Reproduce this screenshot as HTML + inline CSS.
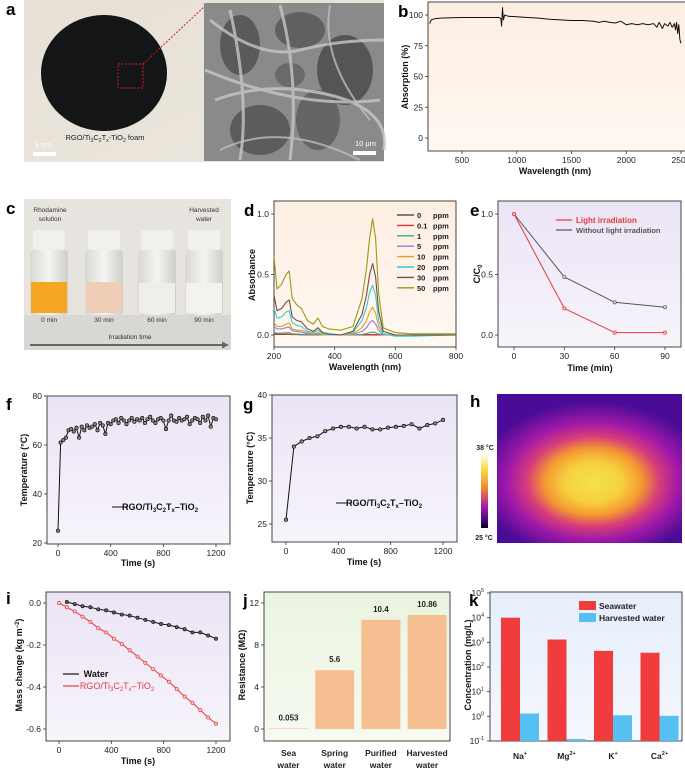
<!DOCTYPE html>
<html><head><meta charset="utf-8"><style>
html,body{margin:0;padding:0;background:#fff;}
svg{display:block;font-family:"Liberation Sans",Arial,sans-serif;}
.tk{font-size:8.5px;fill:#222;}
.tt{font-size:9px;font-weight:bold;fill:#111;}
.pl{font-size:17px;font-weight:bold;fill:#000;}
</style></head><body>
<svg id="fig" width="685" height="770" viewBox="0 0 685 770" xmlns="http://www.w3.org/2000/svg">
<defs>
<linearGradient id="gPeach" x1="0" y1="0" x2="0" y2="1"><stop offset="0" stop-color="#fdeee2"/><stop offset="1" stop-color="#fff8f2"/></linearGradient>
<linearGradient id="gLav" x1="0" y1="0" x2="0" y2="1"><stop offset="0" stop-color="#ebe4f6"/><stop offset="1" stop-color="#f7f4fb"/></linearGradient>
<linearGradient id="gGreen" x1="0" y1="0" x2="0" y2="1"><stop offset="0" stop-color="#eaf4e0"/><stop offset="1" stop-color="#f6faf1"/></linearGradient>
<linearGradient id="gBlue" x1="0" y1="0" x2="0" y2="1"><stop offset="0" stop-color="#e6eefb"/><stop offset="1" stop-color="#f4f7fd"/></linearGradient>
<radialGradient id="gTherm" cx="0.52" cy="0.58" r="0.62" fx="0.52" fy="0.6" gradientTransform="translate(0.52 0.58) scale(1 0.85) translate(-0.52 -0.58)">
<stop offset="0" stop-color="#f4e24a"/><stop offset="0.25" stop-color="#f6d040"/><stop offset="0.42" stop-color="#f59a30"/><stop offset="0.58" stop-color="#d63c7a"/><stop offset="0.75" stop-color="#a018a8"/><stop offset="1" stop-color="#4a0c96"/></radialGradient>
<linearGradient id="gCbar" x1="0" y1="0" x2="0" y2="1"><stop offset="0" stop-color="#fffbe6"/><stop offset="0.2" stop-color="#f4dc40"/><stop offset="0.45" stop-color="#f08a30"/><stop offset="0.7" stop-color="#b01ca0"/><stop offset="0.9" stop-color="#3a0a80"/><stop offset="1" stop-color="#050010"/></linearGradient>
<linearGradient id="gPhotoA" x1="0" y1="0" x2="1" y2="1"><stop offset="0" stop-color="#e6e0d6"/><stop offset="1" stop-color="#ece7de"/></linearGradient>
<linearGradient id="gVial" x1="0" y1="0" x2="1" y2="0"><stop offset="0" stop-color="#d8d8d4"/><stop offset="0.5" stop-color="#f4f4f0"/><stop offset="1" stop-color="#cfcfca"/></linearGradient>
</defs>

<!-- Panel a -->
<text class="pl" x="6" y="15">a</text>
<rect x="24" y="0" width="360" height="162" fill="url(#gPhotoA)"/>
<ellipse cx="104" cy="73" rx="63" ry="58" fill="#141517"/>
<rect x="118" y="64" width="25" height="24" fill="none" stroke="#d02020" stroke-width="1" stroke-dasharray="2,1.5"/>
<line x1="143" y1="64" x2="205" y2="6" stroke="#d02020" stroke-width="1" stroke-dasharray="2,1.5"/>
<g>
<rect x="204" y="3" width="180" height="158" fill="#8a8a8a"/>
<ellipse cx="240" cy="45" rx="20" ry="30" fill="#5a5a5a"/>
<ellipse cx="300" cy="30" rx="25" ry="18" fill="#606060"/>
<ellipse cx="345" cy="70" rx="28" ry="35" fill="#555"/>
<ellipse cx="260" cy="130" rx="30" ry="25" fill="#5c5c5c"/>
<ellipse cx="318" cy="120" rx="22" ry="30" fill="#656565"/>
<ellipse cx="290" cy="75" rx="15" ry="12" fill="#6a6a6a"/>
<path d="M210 20 Q260 60 300 50 T384 40 M215 100 Q270 80 330 95 T384 150 M230 10 Q250 100 240 160 M280 5 Q300 80 290 160 M205 70 Q300 110 380 100" stroke="#c6c6c6" stroke-width="3" fill="none" opacity="0.8"/>
<path d="M220 150 Q280 120 360 160 M330 5 Q320 60 370 120" stroke="#bdbdbd" stroke-width="2" fill="none" opacity="0.8"/>
</g>
<text x="105" y="140" font-size="7.5" text-anchor="middle" fill="#222">RGO/Ti<tspan font-size="5" dy="2">3</tspan><tspan dy="-2">C</tspan><tspan font-size="5" dy="2">2</tspan><tspan dy="-2">T</tspan><tspan font-size="5" dy="2">x</tspan><tspan dy="-2">-TiO</tspan><tspan font-size="5" dy="2">2</tspan><tspan dy="-2"> foam</tspan></text>
<text x="35" y="147" font-size="7.5" fill="#fff">1 cm</text>
<rect x="33" y="152" width="23" height="4" fill="#fff"/>
<text x="355" y="146" font-size="7.5" fill="#fff">10 µm</text>
<rect x="353" y="151" width="23" height="4" fill="#fff"/>

<!-- Panel c photo -->
<text class="pl" x="6" y="214">c</text>
<g>
<rect x="24" y="199" width="207" height="151" fill="#e7e4df"/>
<rect x="24" y="315" width="207" height="35" fill="#d9d7d3"/>
<g>
<rect x="33" y="230" width="32" height="20" rx="3" fill="#f1f1ec"/><rect x="30" y="250" width="38" height="65" rx="3" fill="url(#gVial)"/><rect x="31" y="282" width="36" height="31" fill="#f5a623"/>
<rect x="88" y="230" width="32" height="20" rx="3" fill="#f1f1ec"/><rect x="85" y="250" width="38" height="65" rx="3" fill="url(#gVial)"/><rect x="86" y="282" width="36" height="31" fill="#efcdb6"/>
<rect x="141" y="230" width="32" height="20" rx="3" fill="#f1f1ec"/><rect x="138" y="250" width="38" height="65" rx="3" fill="url(#gVial)"/><rect x="139" y="283" width="36" height="30" fill="#eeeeea"/>
<rect x="188" y="230" width="32" height="20" rx="3" fill="#f1f1ec"/><rect x="185" y="250" width="38" height="65" rx="3" fill="url(#gVial)"/><rect x="186" y="283" width="36" height="30" fill="#f2f2ee"/>
</g>
<text x="50" y="212" font-size="6.5" text-anchor="middle" fill="#333">Rhodamine</text>
<text x="50" y="221" font-size="6.5" text-anchor="middle" fill="#333">solution</text>
<text x="204" y="212" font-size="6.5" text-anchor="middle" fill="#333">Harvested</text>
<text x="204" y="221" font-size="6.5" text-anchor="middle" fill="#333">water</text>
<text x="49" y="322" font-size="6.5" text-anchor="middle" fill="#333">0 min</text>
<text x="104" y="322" font-size="6.5" text-anchor="middle" fill="#333">30 min</text>
<text x="157" y="322" font-size="6.5" text-anchor="middle" fill="#333">60 min</text>
<text x="204" y="322" font-size="6.5" text-anchor="middle" fill="#333">90 min</text>
<text x="130" y="339" font-size="6.5" text-anchor="middle" fill="#333">Irradiation time</text>
<line x1="30" y1="345" x2="222" y2="345" stroke="#666" stroke-width="2"/>
<polygon points="222,341.5 229,345 222,348.5" fill="#666"/>
</g>

<!-- Panel h thermal -->
<text class="pl" x="470" y="407">h</text>
<rect x="497" y="394" width="185" height="149" fill="url(#gTherm)"/>
<rect x="481" y="455" width="7" height="73" fill="url(#gCbar)"/>
<text x="485" y="450" font-size="7" font-weight="bold" text-anchor="middle" fill="#222">38 °C</text>
<text x="484" y="540" font-size="7" font-weight="bold" text-anchor="middle" fill="#222">25 °C</text>

<g id="charts"></g>
</svg>
<script>
// ---------- data ----------
const bWave = [205,220,250,300,400,500,600,700,800,840,855,862,870,878,890,920,1000,1100,1200,1300,1400,1500,1600,1700,1750,1800,1850,1900,1950,2000,2050,2100,2150,2200,2250,2280,2300,2330,2350,2380,2400,2420,2440,2450,2460,2470,2480,2490,2500];
const bAbs = [93,96,97,97.5,97.8,98,98,98,98,98,97,91,106,96,100,99,98.5,98,97.5,96.5,96,95.5,95.5,95,94,95,94,93.5,95,92,93,92,93,92,93,90,94,89,93,91,94,90,93,88,94,85,92,80,77];
const bXTicks = [500,1000,1500,2000,2500];
const bYTicks = [0,25,50,75,100];

const dWave = [200,210,225,240,250,260,275,290,310,330,345,360,380,420,460,490,505,515,525,535,545,560,600,650,800];
const dNames = ['0','0.1','1','5','10','20','30','50'];
const dColors = ['#555555','#e43030','#33b07a','#a274e0','#e0a018','#2ed0d0','#7a4848','#9a9a10'];
const d0 = [0.005,0.004,0.004,0.004,0.004,0.003,0.003,0.002,0.002,0.002,0.002,0.002,0.001,0.001,0.001,0.001,0.001,0.001,0.001,0.001,0.001,0.001,0,0,0];
const d01 = [0.01,0.008,0.007,0.007,0.007,0.005,0.004,0.003,0.002,0.002,0.002,0.001,0.001,0.001,0.001,0.002,0.003,0.004,0.005,0.004,0.002,0.001,0,0,0];
const d1 = [0.02,0.015,0.015,0.018,0.02,0.01,0.008,0.006,0.003,0.002,0.003,0,0,0,0,0.005,0.012,0.02,0.025,0.02,0.008,0,0,0,0];
const d5 = [0.07,0.05,0.05,0.06,0.065,0.035,0.03,0.025,0.01,0.005,0.01,0,0,0,0.005,0.03,0.06,0.10,0.12,0.09,0.04,0,0,0,0];
const d10 = [0.10,0.07,0.07,0.09,0.10,0.05,0.04,0.04,0.02,0.01,0.02,0,0,0,0.01,0.06,0.12,0.19,0.23,0.18,0.07,0.01,0,0,0];
const d20 = [0.22,0.14,0.15,0.19,0.20,0.10,0.08,0.07,0.03,0.02,0.04,0.01,0,0,0.02,0.12,0.23,0.35,0.41,0.33,0.12,0.01,-0.01,-0.01,0];
const d30 = [0.33,0.20,0.22,0.27,0.29,0.15,0.12,0.11,0.05,0.03,0.06,0.02,0.01,0,0.03,0.17,0.33,0.50,0.59,0.48,0.20,0.03,0,0,0];
const d50 = [0.65,0.38,0.42,0.50,0.53,0.30,0.25,0.22,0.12,0.09,0.14,0.07,0.05,0.04,0.07,0.30,0.55,0.80,0.96,0.80,0.35,0.06,0.02,0.01,0.01];
const dXTicks = [200,400,600,800];
const dYTicks = [0,0.5,1.0];

const eTime = [0,30,60,90];
const eLight = [1.0,0.22,0.02,0.02];
const eDark = [1.0,0.48,0.27,0.23];
const eXTicks = [0,30,60,90];
const eYTicks = [0,0.5,1.0];

const fTime = [0,20,40,60,80,100,120,140,160,180,200,220,240,260,280,300,320,340,360,380,400,420,440,460,480,500,520,540,560,580,600,620,640,660,680,700,720,740,760,780,800,820,840,860,880,900,920,940,960,980,1000,1020,1040,1060,1080,1100,1120,1140,1160,1180,1200];
const fTemp = [25,61,62,63,66,66.5,65.5,67,63,67.5,66,68,67,67.5,68.5,66,69,68,64.5,69,68.5,70,70.5,69,71,70,68.5,70,71,69.5,70.5,70,71,69,70.5,71.5,70,69,70.5,71,70,66.5,70,72,70,69.5,71,70,70.5,71.5,68.5,70,71,70.5,69,71.5,70,72,67.5,71,70.5];
const fXTicks = [0,400,800,1200];
const fYTicks = [20,40,60,80];

const gTime = [0,60,120,180,240,300,360,420,480,540,600,660,720,780,840,900,960,1020,1080,1140,1200];
const gTemp = [25.5,34,34.6,35.0,35.2,35.8,36.1,36.3,36.3,36.1,36.3,36.0,36.0,36.2,36.3,36.4,36.6,36.1,36.5,36.7,37.1];
const gXTicks = [0,400,800,1200];
const gYTicks = [25,30,35,40];

const iTimeW = [60,120,180,240,300,360,420,480,540,600,660,720,780,840,900,960,1020,1080,1140,1200];
const iWater = [0.005,-0.005,-0.015,-0.02,-0.03,-0.035,-0.045,-0.055,-0.06,-0.07,-0.08,-0.09,-0.1,-0.105,-0.115,-0.125,-0.14,-0.14,-0.155,-0.17];
const iTimeR = [0,60,120,180,240,300,360,420,480,540,600,660,720,780,840,900,960,1020,1080,1140,1200];
const iRGO = [0,-0.02,-0.04,-0.065,-0.09,-0.12,-0.14,-0.17,-0.195,-0.225,-0.255,-0.285,-0.315,-0.345,-0.375,-0.41,-0.445,-0.475,-0.51,-0.545,-0.575];
const iXTicks = [0,400,800,1200];
const iYTicks = [0,-0.2,-0.4,-0.6];

const jCats = [['Sea','water'],['Spring','water'],['Purified','water'],['Harvested','water']];
const jVals = [0.053,5.6,10.4,10.86];
const jLabels = ['0.053','5.6','10.4','10.86'];
const jYTicks = [0,4,8,12];

const kCats = ['Na','Mg','K','Ca'];
const kSup = ['+','2+','+','2+'];
const kSea = [10000,1300,450,380];
const kHarv = [1.3,0.12,1.1,1.05];
const kYExp = [-1,0,1,2,3,4,5];

// ---------- helpers ----------
const NS='http://www.w3.org/2000/svg';
const root=document.getElementById('charts');
function mk(parent,tag,attrs){const e=document.createElementNS(NS,tag);for(const k in attrs)e.setAttribute(k,attrs[k]);parent.appendChild(e);return e;}
function lin(d0,d1,p0,p1){return v=>p0+(v-d0)*(p1-p0)/(d1-d0);}
function group(name){const g=mk(root,'g',{});


return g;}
function frame(g,x0,y0,x1,y1,fill){const r=mk(g,'rect',{x:x0,y:y0,width:x1-x0,height:y1-y0,fill:fill,stroke:'#333','stroke-width':0.9});

}
function xTicks(g,ticks,sx,yb,labels){ticks.forEach((t,i)=>{const x=sx(t);
const l=mk(g,'line',{x1:x,x2:x,y1:yb,y2:yb+3,stroke:'#333','stroke-width':0.8});


const tx=mk(g,'text',{x:x,y:yb+12,'text-anchor':'middle',class:'tk'});


tx.textContent=labels?labels[i]:String(t);});}
function yTicks(g,ticks,sy,xl,fmt){ticks.forEach(t=>{const y=sy(t);
const l=mk(g,'line',{x1:xl-3,x2:xl,y1:y,y2:y,stroke:'#333','stroke-width':0.8});


const tx=mk(g,'text',{x:xl-5,y:y+3,'text-anchor':'end',class:'tk'});


tx.textContent=fmt?fmt(t):String(t);});}
function title(g,x,y,txt,rot,name){const t=mk(g,'text',{x:x,y:y,'text-anchor':'middle',class:'tt'});
if(rot)t.setAttribute('transform','rotate(-90 '+x+' '+y+')');


t.innerHTML=txt;return t;}
function plabel(g,x,y,txt){const t=mk(g,'text',{x:x,y:y,class:'pl'});


t.textContent=txt;}
function poly(g,xs,ys,sx,sy,color,w,name){const pts=xs.map((x,i)=>sx(x).toFixed(1)+','+sy(ys[i]).toFixed(1)).join(' ');
const p=mk(g,'polyline',{points:pts,fill:'none',stroke:color,'stroke-width':w,'stroke-linejoin':'round'});


return p;}
function dots(g,xs,ys,sx,sy,r,fill,stroke,name){xs.forEach((x,i)=>{const c=mk(g,'circle',{cx:sx(x),cy:sy(ys[i]),r:r,fill:fill,stroke:stroke,'stroke-width':0.7});

});}
const RGO='RGO/Ti<tspan font-size="6" dy="2">3</tspan><tspan dy="-2">C</tspan><tspan font-size="6" dy="2">2</tspan><tspan dy="-2">T</tspan><tspan font-size="6" dy="2">x</tspan><tspan dy="-2">–TiO</tspan><tspan font-size="6" dy="2">2</tspan>';

// ---------- b ----------
(function(){const g=group('panel-b-absorption');
plabel(g,398,17,'b');
frame(g,428,2,686,151,'url(#gPeach)');
const sx=lin(500,2500,462,681), sy=lin(0,100,138,15);
poly(g,bWave,bAbs,sx,sy,'#111',1,'absorption-line');
xTicks(g,bXTicks,sx,151);
yTicks(g,bYTicks,sy,428);
title(g,555,174,'Wavelength (nm)',false,'x-axis-title');
title(g,408,77,'Absorption (%)',true,'y-axis-title');})();

// ---------- d ----------
(function(){const g=group('panel-d-absorbance');
plabel(g,244,216,'d');
frame(g,274,201,456,347,'url(#gPeach)');
const sx=lin(200,800,274,456), sy=lin(0,1,335,214);
const series=[d0,d01,d1,d5,d10,d20,d30,d50];
series.forEach((s,i)=>{poly(g,dWave,s,sx,sy,dColors[i],1.1,'absorbance-'+dNames[i]+'-ppm');});
dNames.forEach((n,i)=>{const y=215+i*10.4;
const l=mk(g,'line',{x1:397,x2:414,y1:y,y2:y,stroke:dColors[i],'stroke-width':1.4});


const t=mk(g,'text',{x:417,y:y+3,'font-size':'7.5','font-weight':'bold',fill:'#222'});


t.textContent=n;
const t2=mk(g,'text',{x:433,y:y+3,'font-size':'7.5','font-weight':'bold',fill:'#222'});


t2.textContent='ppm';});
xTicks(g,dXTicks,sx,347);
yTicks(g,dYTicks,sy,274,v=>v.toFixed(1));
title(g,365,370,'Wavelength (nm)',false,'x-axis-title');
title(g,255,275,'Absorbance',true,'y-axis-title');})();

// ---------- e ----------
(function(){const g=group('panel-e-degradation');
plabel(g,470,216,'e');
frame(g,498,201,681,347,'url(#gLav)');
const sx=lin(0,90,514,665), sy=lin(0,1,335,214);
poly(g,eTime,eDark,sx,sy,'#555',1,'without-light-line');
dots(g,eTime,eDark,sx,sy,1.6,'#ddd','#555','without-light-point');
poly(g,eTime,eLight,sx,sy,'#e43c3c',1,'light-line');
dots(g,eTime,eLight,sx,sy,1.6,'#fbb','#e43c3c','light-point');
const l1=mk(g,'line',{x1:556,x2:572,y1:220,y2:220,stroke:'#e43c3c','stroke-width':1.2});


const t1=mk(g,'text',{x:576,y:223,'font-size':'8','font-weight':'bold',fill:'#e43c3c'});


t1.textContent='Light irradiation';
const l2=mk(g,'line',{x1:556,x2:572,y1:230,y2:230,stroke:'#555','stroke-width':1.2});


const t2=mk(g,'text',{x:576,y:233,'font-size':'7.5','font-weight':'bold',fill:'#555'});


t2.textContent='Without light irradiation';
xTicks(g,eXTicks,sx,347);
yTicks(g,eYTicks,sy,498,v=>v.toFixed(1));
title(g,590,371,'Time (min)',false,'x-axis-title');
title(g,480,274,'C/C<tspan font-size="6" dy="2">0</tspan>',true,'y-axis-title');})();

// ---------- f ----------
(function(){const g=group('panel-f-temperature');
plabel(g,6,410,'f');
frame(g,47,396,230,544,'url(#gLav)');
const sx=lin(0,1200,58,216), sy=lin(20,80,543,396);
poly(g,fTime,fTemp,sx,sy,'#111',1,'temperature-line');
dots(g,fTime,fTemp,sx,sy,1.7,'#888','#111','temperature-point');
const l=mk(g,'line',{x1:112,x2:128,y1:507,y2:507,stroke:'#111','stroke-width':1});


title(g,160,510,RGO,false,'legend-entry');
xTicks(g,fXTicks,sx,544);
yTicks(g,fYTicks,sy,47);
title(g,138,566,'Time (s)',false,'x-axis-title');
title(g,27,470,'Temperature (°C)',true,'y-axis-title');})();

// ---------- g ----------
(function(){const g=group('panel-g-temperature');
plabel(g,243,410,'g');
frame(g,272,395,457,542,'url(#gLav)');
const sx=lin(0,1200,286,443), sy=lin(25,40,524,395);
poly(g,gTime,gTemp,sx,sy,'#111',1,'temperature-line');
dots(g,gTime,gTemp,sx,sy,1.7,'#888','#111','temperature-point');
const l=mk(g,'line',{x1:336,x2:352,y1:503,y2:503,stroke:'#111','stroke-width':1});


title(g,384,506,RGO,false,'legend-entry');
xTicks(g,gXTicks,sx,542);
yTicks(g,gYTicks,sy,272);
title(g,364,565,'Time (s)',false,'x-axis-title');
title(g,253,468,'Temperature (°C)',true,'y-axis-title');})();

// ---------- i ----------
(function(){const g=group('panel-i-mass-change');
plabel(g,6,604,'i');
frame(g,46,592,230,741,'url(#gLav)');
const sx=lin(0,1200,59,216), sy=lin(0,-0.6,603,729);
poly(g,iTimeW,iWater,sx,sy,'#111',1,'water-line');
dots(g,iTimeW,iWater,sx,sy,1.6,'#666','#111','water-point');
poly(g,iTimeR,iRGO,sx,sy,'#e43c3c',1,'rgo-line');
dots(g,iTimeR,iRGO,sx,sy,1.6,'#fcc','#e43c3c','rgo-point');
const l1=mk(g,'line',{x1:63,x2:79,y1:674,y2:674,stroke:'#111','stroke-width':1.2});


const t1=title(g,96,677,'Water',false,'legend-entry-water');
const l2=mk(g,'line',{x1:63,x2:79,y1:686,y2:686,stroke:'#e43c3c','stroke-width':1.2});


const t2=title(g,117,689,RGO,false,'legend-entry-rgo');
t2.setAttribute('fill','#e43c3c');t2.style.fill='#e43c3c';t2.style.fontWeight='normal';
xTicks(g,iXTicks,sx,741);
yTicks(g,iYTicks,sy,46,v=>v===0?'0.0':v.toFixed(1));
title(g,138,764,'Time (s)',false,'x-axis-title');
title(g,22,665,'Mass change (kg m<tspan font-size="6" dy="-3">−2</tspan><tspan dy="3">)</tspan>',true,'y-axis-title');})();

// ---------- j ----------
(function(){const g=group('panel-j-resistance');
plabel(g,243,606,'j');
frame(g,264,592,450,741,'url(#gGreen)');
const sy=lin(0,12,729,603);
jVals.forEach((v,i)=>{const x0=269+i*46.2;
const r=mk(g,'rect',{x:x0,y:sy(v),width:39,height:Math.max(0.6,729-sy(v)),fill:'#f6bf92'});


const t=mk(g,'text',{x:x0+19.5,y:sy(v)-8,'text-anchor':'middle','font-size':'8','font-weight':'bold',fill:'#222'});


t.textContent=jLabels[i];
jCats[i].forEach((w,k)=>{const c=mk(g,'text',{x:x0+19.5,y:756+k*12,'text-anchor':'middle','font-size':'8.5','font-weight':'bold',fill:'#222'});


c.textContent=w;});});
yTicks(g,jYTicks,sy,264);
title(g,245,665,'Resistance (MΩ)',true,'y-axis-title');})();

// ---------- k ----------
(function(){const g=group('panel-k-concentration');
plabel(g,469,606,'k');
frame(g,490,592,682,741,'url(#gBlue)');
const ly=lin(-1,5,741,593);
const sy=v=>ly(Math.log10(v));
kCats.forEach((c,i)=>{const x0=501+i*46.5;
const r=mk(g,'rect',{x:x0,y:sy(kSea[i]),width:19,height:741-sy(kSea[i]),fill:'#f03c3c'});


const b=mk(g,'rect',{x:x0+19,y:sy(kHarv[i]),width:19,height:741-sy(kHarv[i]),fill:'#56c0f2'});


const t=mk(g,'text',{x:x0+19,y:759,'text-anchor':'middle','font-size':'8.5','font-weight':'bold',fill:'#222'});


t.innerHTML=c+'<tspan font-size="5.5" dy="-4">'+kSup[i]+'</tspan>';});
kYExp.forEach(e=>{const y=ly(e);
const l=mk(g,'line',{x1:487,x2:490,y1:y,y2:y,stroke:'#333','stroke-width':0.8});


const t=mk(g,'text',{x:484,y:y+3,'text-anchor':'end',class:'tk'});


t.innerHTML='10<tspan font-size="5.5" dy="-4">'+e+'</tspan>';});
const s1=mk(g,'rect',{x:579,y:601,width:17,height:9,fill:'#f03c3c'});


const t1=mk(g,'text',{x:599,y:609,'font-size':'8.5','font-weight':'bold',fill:'#222'});


t1.textContent='Seawater';
const s2=mk(g,'rect',{x:579,y:613,width:17,height:9,fill:'#56c0f2'});


const t2=mk(g,'text',{x:599,y:621,'font-size':'8.5','font-weight':'bold',fill:'#222'});


t2.textContent='Harvested water';
title(g,471,665,'Concentration (mg/L)',true,'y-axis-title');})();
</script>
</body></html>
